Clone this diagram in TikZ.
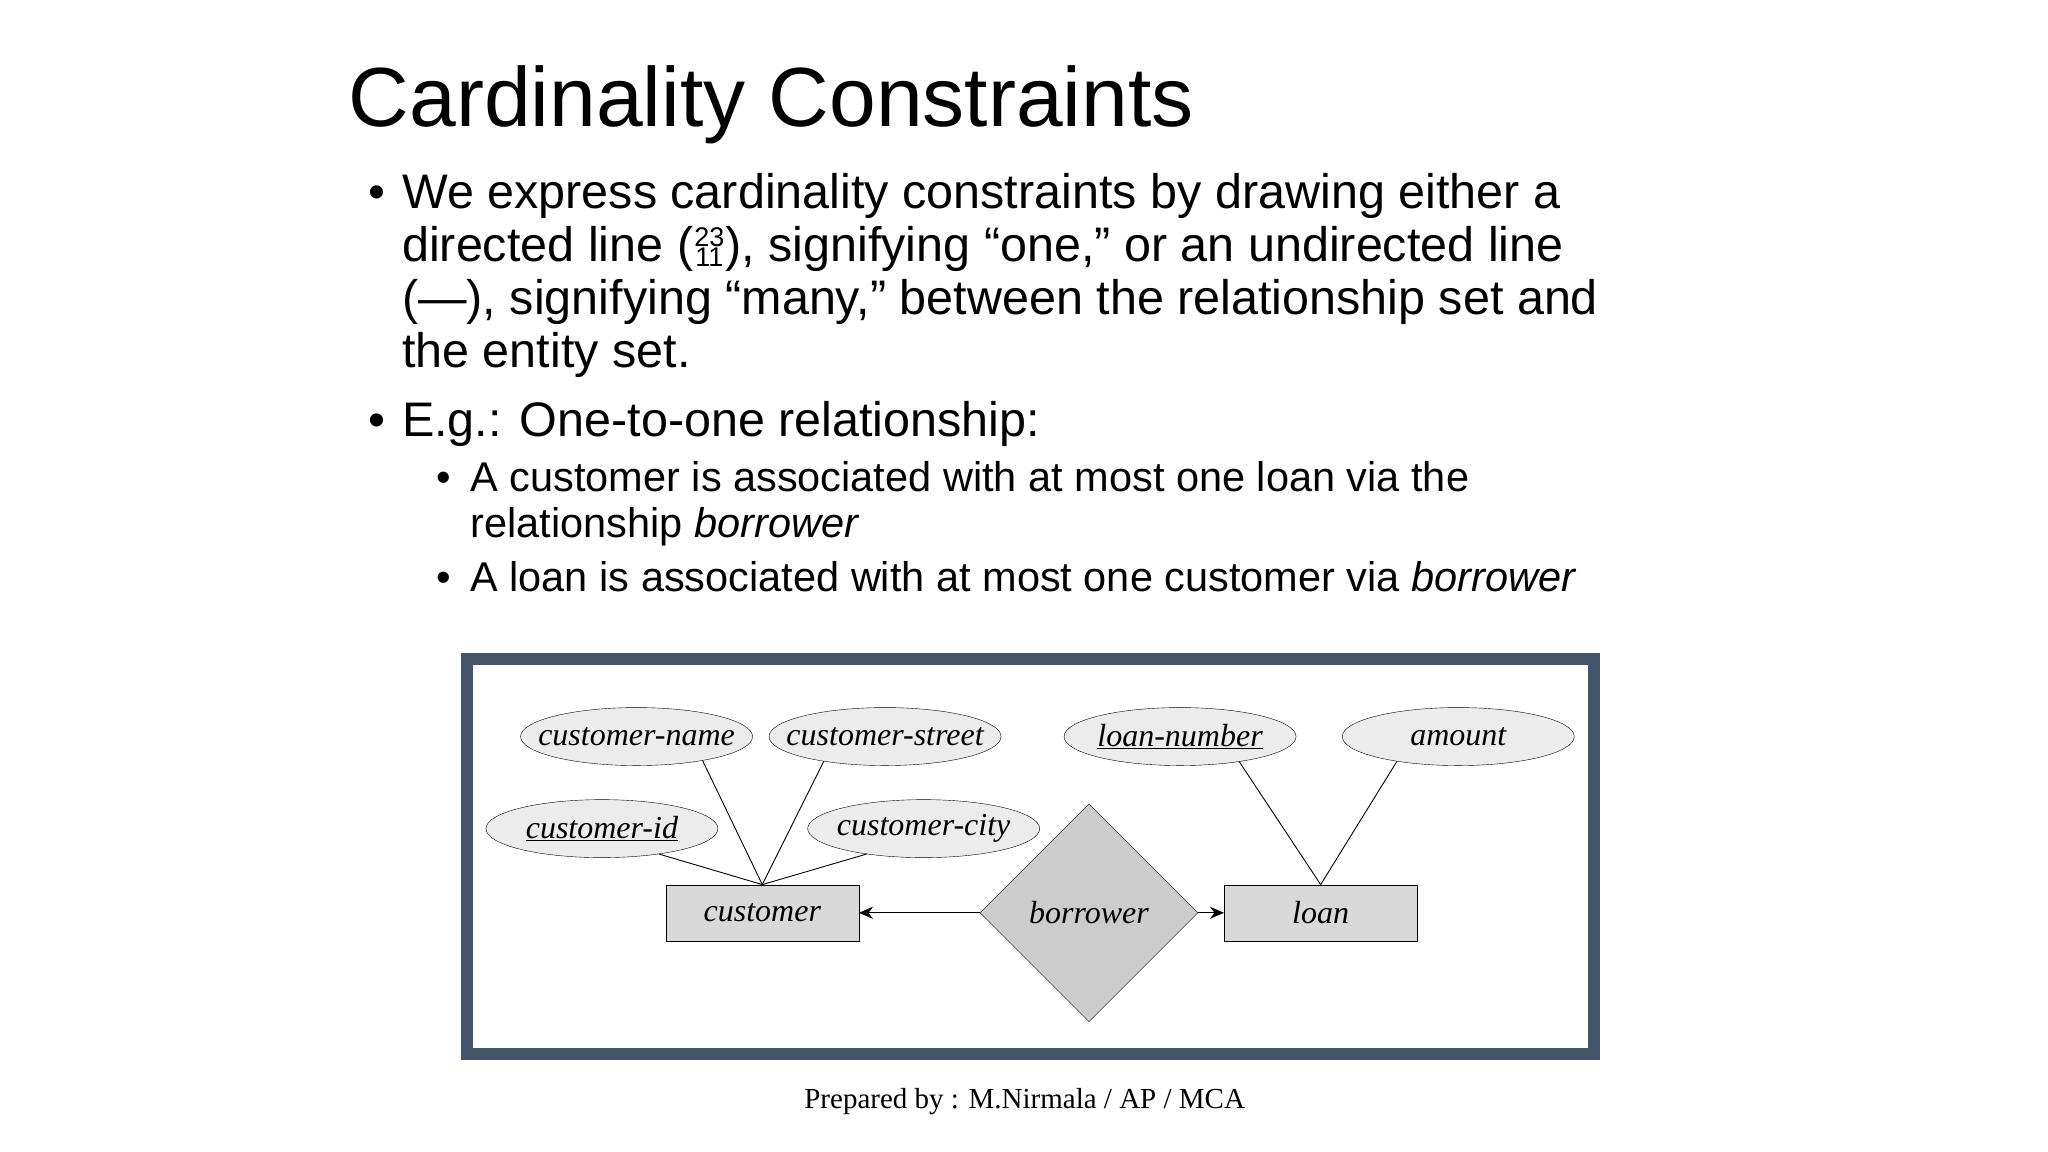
\documentclass[tikz,border=0pt]{standalone}
\usepackage{fontspec}
\setmainfont{Liberation Sans}
\newfontfamily\serifer{Liberation Serif}
\usetikzlibrary{shapes.geometric,arrows.meta}
\tikzset{
  body/.style={anchor=base west,inner sep=0pt,font=\fontsize{48.5}{48}\selectfont},
  sub/.style={anchor=base west,inner sep=0pt,font=\fontsize{41.5}{41}\selectfont},
  attr/.style={ellipse,draw,fill=gray!15,minimum width=232,minimum height=58,inner xsep=-30pt,inner ysep=-10pt,font=\serifer\itshape\fontsize{32}{32}\selectfont},
  ent/.style={rectangle,draw,fill=gray!30,minimum width=193,minimum height=56,inner sep=0pt,font=\serifer\itshape\fontsize{32}{32}\selectfont},
  rel/.style={diamond,draw,fill=gray!40,minimum width=218,minimum height=218,inner sep=0pt,font=\serifer\itshape\fontsize{32}{32}\selectfont},
  link/.style={draw,line width=0.9pt},
}
\definecolor{frame}{HTML}{44546A}
\newcommand{\stackedno}{\kern1pt\raisebox{-5pt}{\fontsize{27}{27}\selectfont\shortstack{23\\[-2pt]11}}\kern1pt}
\begin{document}
\begin{tikzpicture}[x=0.99pt,y=-0.99pt]
\useasboundingbox (0,0) rectangle (2068.7,1163.6);
\node[anchor=base west,inner sep=0pt,font=\fontsize{84}{84}\selectfont] (title) at (352,128) {Cardinality Constraints};
\node[body] (b1) at (372,211) {•};
\node[body] (l1) at (406,211) {We express cardinality constraints by drawing either a};
\node[body] (l2) at (406,264) {directed line (\stackedno), signifying “one,” or an undirected line};
\node[body] (l3) at (406,318) {(—), signifying “many,” between the relationship set and};
\node[body] (l4) at (406,371) {the entity set.};
\node[body] (b2) at (372,441) {•};
\node[body] (l5) at (406,441) {E.g.: One-to-one relationship:};
\node[sub] (b3) at (441,496) {•};
\node[sub] (s1) at (475,496) {A customer is associated with at most one loan via the};
\node[sub] (s2) at (475,543) {relationship \textit{borrower}};
\node[sub] (b4) at (441,597) {•};
\node[sub] (s3) at (475,597) {A loan is associated with at most one customer via \textit{borrower}};
\draw[frame,line width=12pt] (472,666) rectangle (1610,1065);
\node[attr] (cn) at (643,744) {customer-name};
\node[attr] (cs) at (894,744) {customer-street};
\node[attr] (ln) at (1192,744) {\underline{loan-number}};
\node[attr] (am) at (1473,744) {amount};
\node[attr] (ci) at (608,837) {\underline{customer-id}};
\node[attr] (cc) at (933,837) {customer-city};
\node[ent] (cu) at (770,922) {customer};
\node[ent] (lo) at (1334,922) {loan};
\node[rel] (bo) at (1100,922) {borrower};
\draw[link] (cn.-20) -- (cu.north);
\draw[link] (cs.-158) -- (cu.north);
\draw[link] (ci.-24) -- (cu.north);
\draw[link] (cc.-156) -- (cu.north);
\draw[link] (ln.-23) -- (lo.north);
\draw[link] (am.-158) -- (lo.north);
\draw[link,-{Stealth[length=14pt,width=12pt]}] (bo.west) -- (cu.east);
\draw[link,-{Stealth[length=14pt,width=12pt]}] (bo.east) -- (lo.west);
\node[inner sep=0pt,font=\serifer\fontsize{29}{29}\selectfont] (foot) at (1035,1113) {Prepared by : M.Nirmala / AP / MCA};
\end{tikzpicture}
\end{document}
